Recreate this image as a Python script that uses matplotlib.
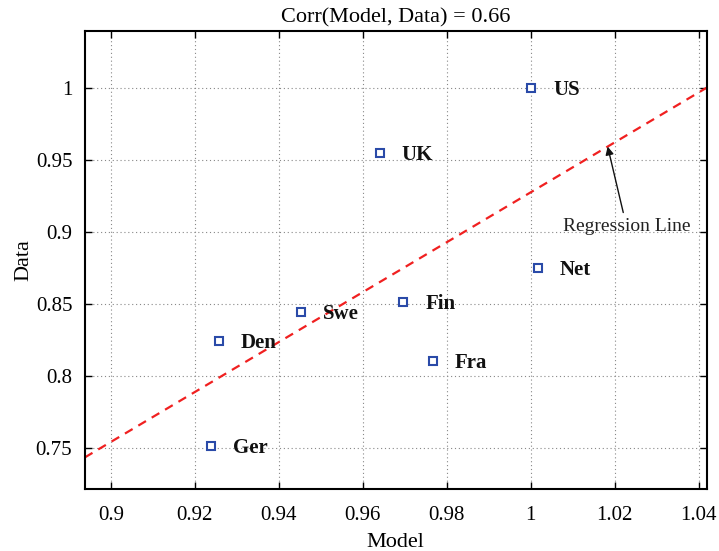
import matplotlib
matplotlib.use("Agg")
import matplotlib.pyplot as plt
import numpy as np

plt.rcParams['font.family'] = ['Liberation Serif', 'DejaVu Serif']

# --- data ---
countries = ['US', 'UK', 'Net', 'Fin', 'Fra', 'Swe', 'Den', 'Ger']
model = [1.0000, 0.9640, 1.0016, 0.9696, 0.9766, 0.9452, 0.9257, 0.9239]
data = [1.0000, 0.9550, 0.8748, 0.8512, 0.8104, 0.8440, 0.8243, 0.7511]
xticks = [0.9, 0.92, 0.94, 0.96, 0.98, 1.0, 1.02, 1.04]
yticks = [0.75, 0.8, 0.85, 0.9, 0.95, 1.0]
xticklabels = ['0.9', '0.92', '0.94', '0.96', '0.98', '1', '1.02', '1.04']
yticklabels = ['0.75', '0.8', '0.85', '0.9', '0.95', '1']

xlim = (0.8938, 1.0419)
ylim = (0.7212, 1.0396)

fig = plt.figure(figsize=(7.19, 5.51), dpi=100, facecolor='white')
ax = fig.add_axes([0.118, 0.1125, 0.865, 0.8312])

# regression of data on model
slope, intercept = np.polyfit(model, data, 1)
xs = np.array(xlim)
ax.plot(xs, intercept + slope * xs, linestyle=(0, (4, 3)), color='#f02020', linewidth=1.6, zorder=2)

ax.plot(model, data, linestyle='None', marker='s', markersize=5.5,
        markerfacecolor='white', markeredgecolor='#2a4aa8', markeredgewidth=1.5, zorder=3)

for name, mx, dy in zip(countries, model, data):
    ax.annotate(name, (mx, dy), xytext=(16, -1.5), textcoords='offset points',
                fontsize=15, fontweight='bold', va='center', ha='left', color='#111111')

# arrow pointing at the line
x_arrow = 1.0183
ax.annotate('Regression Line', xy=(x_arrow, intercept + slope * x_arrow),
            xytext=(1.0228, 0.9037), fontsize=14, ha='center', va='center',
            color='#222222',
            arrowprops=dict(arrowstyle='-|>', color='#111111', lw=1.0,
                            mutation_scale=12, shrinkA=2, shrinkB=0))

ax.set_xlim(*xlim)
ax.set_ylim(*ylim)
ax.set_xticks(xticks)
ax.set_xticklabels(xticklabels)
ax.set_yticks(yticks)
ax.set_yticklabels(yticklabels)
ax.tick_params(direction='in', top=True, right=True, labelsize=15, length=5, width=1)
ax.tick_params(axis='x', pad=12)
ax.tick_params(axis='y', pad=9)
ax.grid(True, linestyle=(0, (1, 2.5)), color='#888888', linewidth=0.8)
for s in ax.spines.values():
    s.set_linewidth(1.5)

ax.set_title('Corr(Model, Data) = 0.66', fontsize=16, pad=6)
ax.set_xlabel('Model', fontsize=16, labelpad=6)
ax.set_ylabel('Data', fontsize=16, labelpad=2)

fig.savefig('out.png', dpi=100)
